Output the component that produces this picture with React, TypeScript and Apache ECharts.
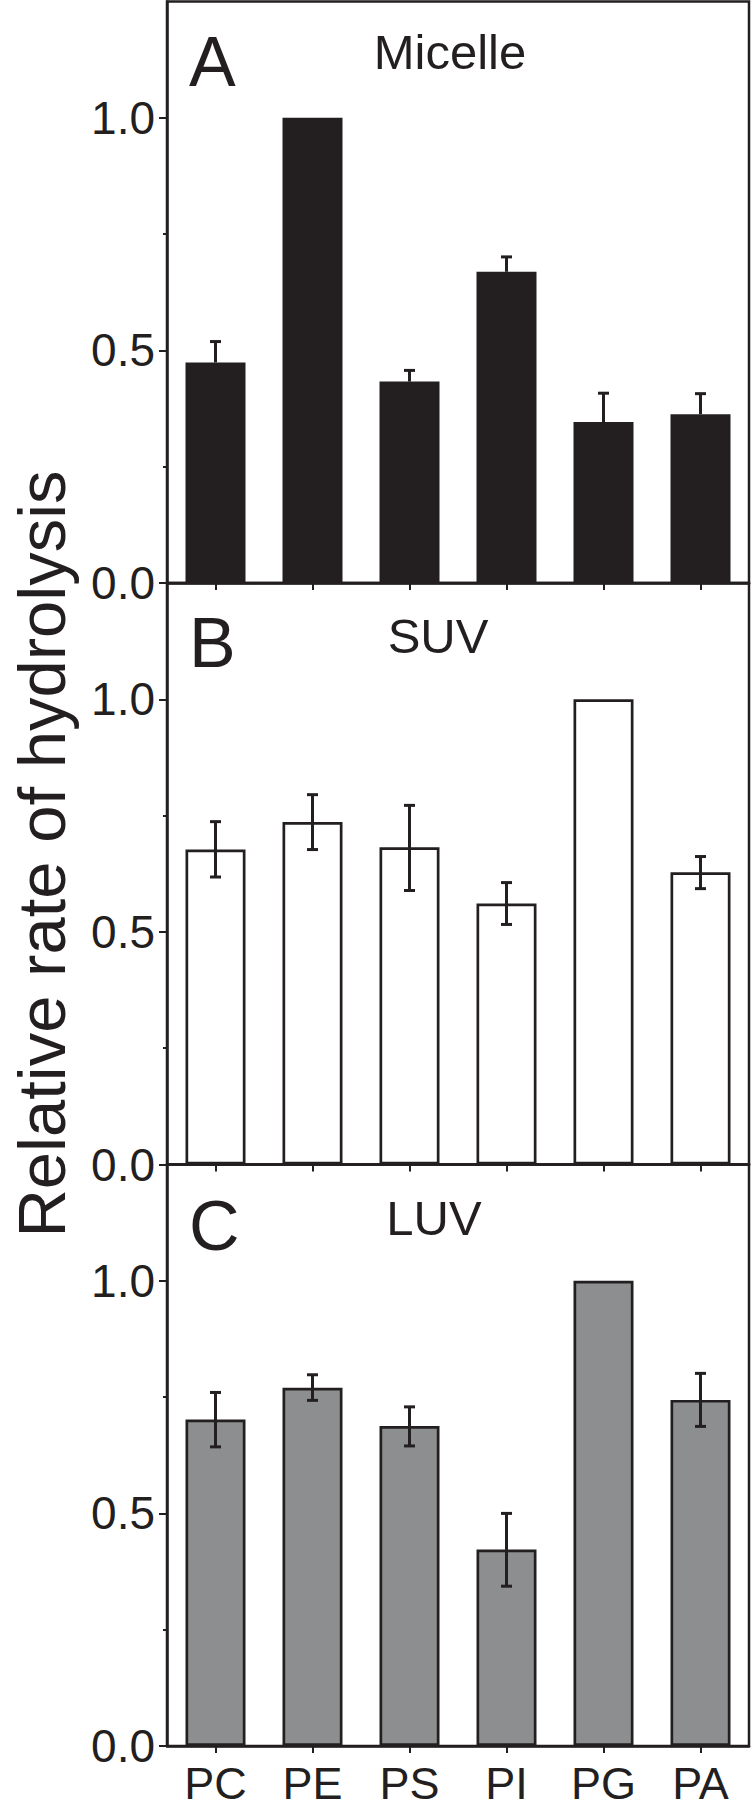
import React, { useEffect, useRef } from 'react';
import * as echarts from 'echarts';

const categories = ['PC', 'PE', 'PS', 'PI', 'PG', 'PA'];

const micelleValues = [0.474, 1.0, 0.433, 0.669, 0.346, 0.363];
const micelleErrHigh = [0.519, null, 0.457, 0.701, 0.408, 0.407];

const suvValues = [0.677, 0.736, 0.682, 0.561, 1.0, 0.628];
const suvErrLow = [0.618, 0.677, 0.589, 0.516, null, 0.593];
const suvErrHigh = [0.737, 0.795, 0.772, 0.606, null, 0.662];

const luvValues = [0.702, 0.77, 0.688, 0.4225, 1.0, 0.744];
const luvErrLow = [0.643, 0.743, 0.645, 0.3435, null, 0.687];
const luvErrHigh = [0.76, 0.798, 0.729, 0.5, null, 0.801];

const yTickValues = [0, 0.5, 1.0];
const yMinorTickValues = [0.25, 0.75];

const panelLetters = ['A', 'B', 'C'];
const panelTitles = ['Micelle', 'SUV', 'LUV'];
const yAxisTitle = 'Relative rate of hydrolysis';

const INK = '#231f20';
const FONT = '"Liberation Sans", Arial, Helvetica, sans-serif';

function errData(low: (number | null)[] | null, values: number[], high: (number | null)[]) {
  const out: number[][] = [];
  high.forEach((h, i) => {
    if (h == null) return;
    const lo = low ? (low[i] as number) : values[i];
    out.push([i, lo, h]);
  });
  return out;
}

function makeRenderItem(lowerCap: boolean) {
  return (params: any, api: any) => {
    const x = api.value(0);
    const lo = api.value(1);
    const hi = api.value(2);
    const pLo = api.coord([x, lo]);
    const pHi = api.coord([x, hi]);
    const hw = 5.5;
    const style = { stroke: INK, lineWidth: 3, fill: null };
    const children: any[] = [
      { type: 'line', shape: { x1: pLo[0], y1: pLo[1], x2: pHi[0], y2: pHi[1] }, style },
      { type: 'line', shape: { x1: pHi[0] - hw, y1: pHi[1], x2: pHi[0] + hw, y2: pHi[1] }, style },
    ];
    if (lowerCap) {
      children.push({ type: 'line', shape: { x1: pLo[0] - hw, y1: pLo[1], x2: pLo[0] + hw, y2: pLo[1] }, style });
    }
    return { type: 'group', children };
  };
}

export default function App() {
  const ref = useRef<HTMLDivElement>(null);
  useEffect(() => {
    document.body.style.margin = '0';
    if (!ref.current) return;
    const chart = echarts.init(ref.current, null, { renderer: 'svg' });

    const gridTops = [1.5, 583, 1164.5];
    const gridH = 581.5;
    const grids = gridTops.map((t) => ({
      left: 167,
      right: 2,
      top: t,
      height: gridH,
      show: true,
      borderColor: INK,
      borderWidth: 2.5,
      backgroundColor: 'transparent',
    }));

    const xAxes: any[] = [0, 1, 2].map((i) => ({
      type: 'category',
      gridIndex: i,
      data: categories,
      boundaryGap: true,
      axisLine: { show: true, lineStyle: { color: INK, width: 2.5 } },
      axisTick: { show: true, alignWithLabel: true, length: 7, lineStyle: { color: INK, width: 2 } },
      axisLabel: {
        show: i === 2,
        fontSize: 45,
        fontFamily: FONT,
        color: INK,
        margin: 15,
      },
      splitLine: { show: false },
    }));

    const yAxes: any[] = [];
    [0, 1, 2].forEach((i) => {
      yAxes.push({
        type: 'value',
        gridIndex: i,
        min: 0,
        max: 1.25,
        interval: 0.25,
        axisLine: { show: true, lineStyle: { color: INK, width: 2.5 } },
        axisTick: { show: true, length: 8, customValues: yTickValues, lineStyle: { color: INK, width: 2 } },
        axisLabel: {
          show: true,
          customValues: yTickValues,
          formatter: (v: number) => v.toFixed(1),
          fontSize: 46,
          fontFamily: FONT,
          color: INK,
          margin: 12,
          padding: [0, 0, 8, 0],
        },
        splitLine: { show: false },
      });
    });
    [0, 1, 2].forEach((i) => {
      yAxes.push({
        type: 'value',
        gridIndex: i,
        position: 'left',
        min: 0,
        max: 1.25,
        interval: 0.25,
        axisLine: { show: false },
        axisTick: { show: true, length: 4, customValues: yMinorTickValues, lineStyle: { color: INK, width: 2 } },
        axisLabel: { show: false },
        splitLine: { show: false },
      });
    });

    const barBase = { type: 'bar', barWidth: 60 };
    const series: any[] = [
      {
        ...barBase,
        xAxisIndex: 0,
        yAxisIndex: 0,
        data: micelleValues,
        itemStyle: { color: INK, borderColor: INK, borderWidth: 2 },
      },
      {
        ...barBase,
        xAxisIndex: 1,
        yAxisIndex: 1,
        data: suvValues,
        itemStyle: { color: '#ffffff', borderColor: INK, borderWidth: 2.7 },
      },
      {
        ...barBase,
        xAxisIndex: 2,
        yAxisIndex: 2,
        data: luvValues,
        itemStyle: { color: '#8d8e90', borderColor: INK, borderWidth: 2.7 },
      },
      {
        type: 'custom',
        xAxisIndex: 0,
        yAxisIndex: 0,
        z: 5,
        data: errData(null, micelleValues, micelleErrHigh),
        renderItem: makeRenderItem(false),
      },
      {
        type: 'custom',
        xAxisIndex: 1,
        yAxisIndex: 1,
        z: 5,
        data: errData(suvErrLow, suvValues, suvErrHigh),
        renderItem: makeRenderItem(true),
      },
      {
        type: 'custom',
        xAxisIndex: 2,
        yAxisIndex: 2,
        z: 5,
        data: errData(luvErrLow, luvValues, luvErrHigh),
        renderItem: makeRenderItem(true),
      },
    ];

    const letterY = [62, 643, 1226];
    const titlePos = [
      [450, 52],
      [438, 636],
      [434, 1218],
    ];
    const graphic: any[] = [];
    panelLetters.forEach((l, i) => {
      graphic.push({
        type: 'text',
        x: 189,
        y: letterY[i],
        style: { text: l, fontSize: 70, fontFamily: FONT, fill: INK, textAlign: 'left', textVerticalAlign: 'middle' },
      });
      graphic.push({
        type: 'text',
        x: titlePos[i][0],
        y: titlePos[i][1],
        style: {
          text: panelTitles[i],
          fontSize: 49,
          fontFamily: FONT,
          fill: INK,
          textAlign: 'center',
          textVerticalAlign: 'middle',
        },
      });
    });
    graphic.push({
      type: 'text',
      x: 41,
      y: 854,
      rotation: Math.PI / 2,
      style: {
        text: yAxisTitle,
        fontSize: 67,
        fontFamily: FONT,
        fill: INK,
        textAlign: 'center',
        textVerticalAlign: 'middle',
      },
    });

    chart.setOption({
      animation: false,
      backgroundColor: '#ffffff',
      grid: grids,
      xAxis: xAxes,
      yAxis: yAxes,
      series,
      graphic,
    });
    return () => chart.dispose();
  }, []);
  return <div ref={ref} style={{ width: 751, height: 1815 }} />;
}
